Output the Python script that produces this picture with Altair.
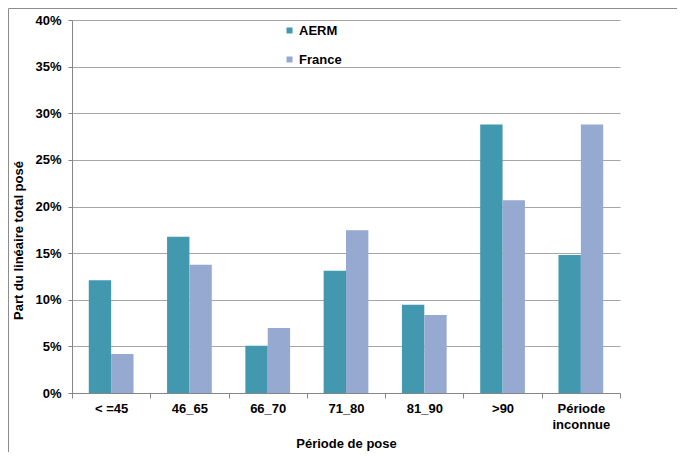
import altair as alt
import pandas as pd

categories = ["< =45", "46_65", "66_70", "71_80", "81_90", ">90", "Période inconnue"]
aerm = [12.1, 16.75, 5.07, 13.1, 9.46, 28.8, 14.8]
france = [4.18, 13.75, 6.96, 17.46, 8.36, 20.68, 28.8]
series = ["AERM", "France"]
colors = ["#4198AF", "#95A9D1"]
y_ticks = [0, 5, 10, 15, 20, 25, 30, 35, 40]

rows = []
for c, a, f in zip(categories, aerm, france):
    rows.append({"cat": c, "serie": "AERM", "val": a})
    rows.append({"cat": c, "serie": "France", "val": f})
df = pd.DataFrame(rows)

FONT = "Liberation Sans"

bars = alt.Chart(df).mark_bar().encode(
    x=alt.X(
        "cat:N",
        sort=categories,
        scale=alt.Scale(paddingInner=0, paddingOuter=0),
        axis=alt.Axis(
            title="Période de pose",
            labelAngle=0,
            tickBand="extent",
            tickSize=5,
            tickColor="#868686",
            domainColor="#868686",
            labelPadding=4,
            labelLineHeight=16,
            labelFontSize=13,
            labelFontWeight="bold",
            labelColor="#000000",
            labelFont=FONT,
            labelExpr="datum.label == 'Période inconnue' ? ['Période', 'inconnue'] : datum.label",
            titleFont=FONT,
            titleFontSize=13,
            titleFontWeight="bold",
            titleColor="#000000",
            titleX=274,
            titleY=50,
            titleBaseline="middle",
        ),
    ),
    xOffset=alt.XOffset(
        "serie:N", sort=series, scale=alt.Scale(paddingInner=0, paddingOuter=0.75)
    ),
    y=alt.Y(
        "val:Q",
        scale=alt.Scale(domain=[0, 40], nice=False),
        axis=alt.Axis(
            values=y_ticks,
            labelExpr="datum.value + '%'",
            title="Part du linéaire total posé",
            grid=True,
            gridColor="#A6A6A6",
            gridWidth=1,
            tickSize=4,
            tickColor="#868686",
            domainColor="#868686",
            labelPadding=7,
            labelFontSize=13,
            labelFontWeight="bold",
            labelColor="#000000",
            labelFont=FONT,
            titleFont=FONT,
            titleFontSize=13,
            titleFontWeight="bold",
            titleColor="#000000",
            titleX=-54,
            titleY=220,
            titleAngle=-90,
            titleBaseline="middle",
        ),
    ),
    color=alt.Color(
        "serie:N",
        scale=alt.Scale(domain=series, range=colors),
        legend=alt.Legend(
            title=None,
            orient="none",
            legendX=211,
            legendY=4,
            symbolType="square",
            symbolSize=36,
            symbolStrokeWidth=0,
            labelFontSize=13,
            labelFontWeight="bold",
            labelFont=FONT,
            labelColor="#000000",
            labelOffset=3,
            rowPadding=15,
        ),
    ),
)

border = alt.Chart(pd.DataFrame({"k": [0]})).mark_rule(color="#8C8C8C", strokeWidth=1).encode(
    x=alt.value(-63.5), x2=alt.value(605), y=alt.value(-11.5)
)
border_left = alt.Chart(pd.DataFrame({"k": [0]})).mark_rule(color="#8C8C8C", strokeWidth=1).encode(
    x=alt.value(-63.5), y=alt.value(-11.5), y2=alt.value(432)
)

chart = alt.layer(bars, border, border_left).properties(
    width=548,
    height=373,
    padding={"left": 64, "top": 12, "right": 57, "bottom": 59},
    autosize=alt.AutoSizeParams(type="none"),
).configure_view(stroke=None)

chart.save("out.html", embed_options={"renderer": "svg", "actions": False})
